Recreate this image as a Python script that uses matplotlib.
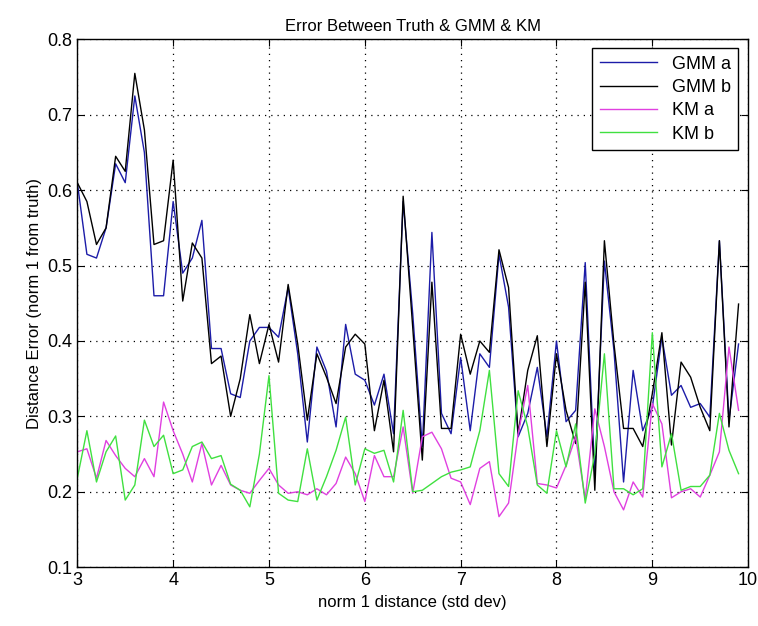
import numpy as np
import matplotlib
matplotlib.use("Agg")
import matplotlib.pyplot as plt
import matplotlib.ticker as ticker

# x runs 3.0 .. 9.9 in steps of 0.1
dist = np.round(np.arange(3.0, 9.95, 0.1), 1)

gmm_a = [0.61, 0.515, 0.51, 0.55, 0.635, 0.61, 0.725, 0.65, 0.46, 0.46,
         0.585, 0.49, 0.51, 0.56, 0.39, 0.39, 0.33, 0.325, 0.40,
         0.418, 0.418, 0.405, 0.471, 0.383, 0.266, 0.392, 0.36, 0.286, 0.422,
         0.356, 0.348, 0.315, 0.356, 0.277, 0.585, 0.436, 0.26,
         0.544, 0.304, 0.277, 0.378, 0.281, 0.383, 0.365, 0.515, 0.445, 0.273,
         0.304, 0.365, 0.273, 0.40, 0.293, 0.308, 0.504, 0.222,
         0.506, 0.387, 0.213, 0.361, 0.281, 0.312, 0.405, 0.328, 0.341, 0.312,
         0.317, 0.299, 0.533, 0.295, 0.396]

gmm_b = [0.61, 0.585, 0.528, 0.55, 0.645, 0.625, 0.755, 0.68, 0.528, 0.533,
         0.64, 0.453, 0.53, 0.51, 0.37, 0.38, 0.30, 0.35, 0.435,
         0.37, 0.422, 0.372, 0.475, 0.396, 0.295, 0.383, 0.352, 0.317, 0.392,
         0.409, 0.396, 0.281, 0.348, 0.253, 0.592, 0.418, 0.242,
         0.478, 0.284, 0.284, 0.409, 0.356, 0.40, 0.385, 0.521, 0.471, 0.277,
         0.361, 0.407, 0.26, 0.383, 0.308, 0.264, 0.478, 0.202,
         0.533, 0.396, 0.284, 0.284, 0.26, 0.33, 0.411, 0.262, 0.372, 0.352,
         0.312, 0.281, 0.533, 0.286, 0.449]

km_a = [0.253, 0.257, 0.218, 0.268, 0.248, 0.231, 0.22, 0.244, 0.22, 0.319,
        0.281, 0.25, 0.213, 0.264, 0.209, 0.235, 0.209, 0.202, 0.198,
        0.215, 0.231, 0.209, 0.198, 0.2, 0.196, 0.204, 0.196, 0.211, 0.246,
        0.224, 0.187, 0.248, 0.22, 0.22, 0.286, 0.198, 0.273,
        0.279, 0.257, 0.218, 0.213, 0.183, 0.231, 0.24, 0.167, 0.185, 0.277,
        0.341, 0.211, 0.209, 0.205, 0.235, 0.273, 0.19, 0.31,
        0.26, 0.2, 0.176, 0.213, 0.193, 0.317, 0.29, 0.192, 0.2, 0.204,
        0.193, 0.222, 0.253, 0.392, 0.308]

km_b = [0.218, 0.281, 0.213, 0.253, 0.274, 0.189, 0.209, 0.295, 0.26, 0.275,
        0.224, 0.229, 0.26, 0.266, 0.244, 0.248, 0.21, 0.202, 0.18,
        0.25, 0.354, 0.198, 0.189, 0.187, 0.257, 0.189, 0.22, 0.255, 0.299,
        0.209, 0.257, 0.251, 0.255, 0.213, 0.308, 0.2, 0.202,
        0.211, 0.22, 0.226, 0.229, 0.233, 0.281, 0.361, 0.224, 0.207, 0.334,
        0.286, 0.209, 0.198, 0.281, 0.233, 0.29, 0.185, 0.25,
        0.383, 0.204, 0.204, 0.196, 0.204, 0.411, 0.233, 0.277, 0.202, 0.207,
        0.207, 0.222, 0.304, 0.255, 0.224]

plt.rcParams["font.family"] = ["Liberation Sans", "DejaVu Sans"]

fig = plt.figure(figsize=(7.58, 6.26), dpi=100)
ax = fig.add_axes([0.102, 0.094, 0.885, 0.843])

ax.plot(dist, gmm_a, color="#1c1ca8", lw=1.0, label="GMM a")
ax.plot(dist, gmm_b, color="black", lw=1.0, label="GMM b")
ax.plot(dist, km_a, color="#e040e0", lw=1.0, label="KM a")
ax.plot(dist, km_b, color="#40e040", lw=1.0, label="KM b")

ax.set_xlim(3, 10)
ax.set_ylim(0.1, 0.8)
ax.xaxis.set_major_locator(ticker.MultipleLocator(1))
ax.yaxis.set_major_locator(ticker.MultipleLocator(0.1))
ax.yaxis.set_major_formatter(ticker.FormatStrFormatter("%.1f"))
ax.tick_params(direction="in", top=True, right=True, labelsize=13, length=5)
ax.grid(True, color="black", linestyle=(0, (1, 4)), linewidth=0.9)
for s in ax.spines.values():
    s.set_linewidth(1.0)

ax.set_title("Error Between Truth & GMM & KM", fontsize=12)
ax.set_xlabel("norm 1 distance (std dev)", fontsize=12)
ax.set_ylabel("Distance Error (norm 1 from truth)", fontsize=12)

leg = ax.legend(loc="upper right", bbox_to_anchor=(0.985, 0.983), borderaxespad=0,
                fancybox=False, framealpha=1, edgecolor="black", fontsize=13,
                handlelength=3.2, labelspacing=0.35)
leg.get_frame().set_linewidth(1.0)

fig.savefig("out.png", dpi=100, facecolor="white")
